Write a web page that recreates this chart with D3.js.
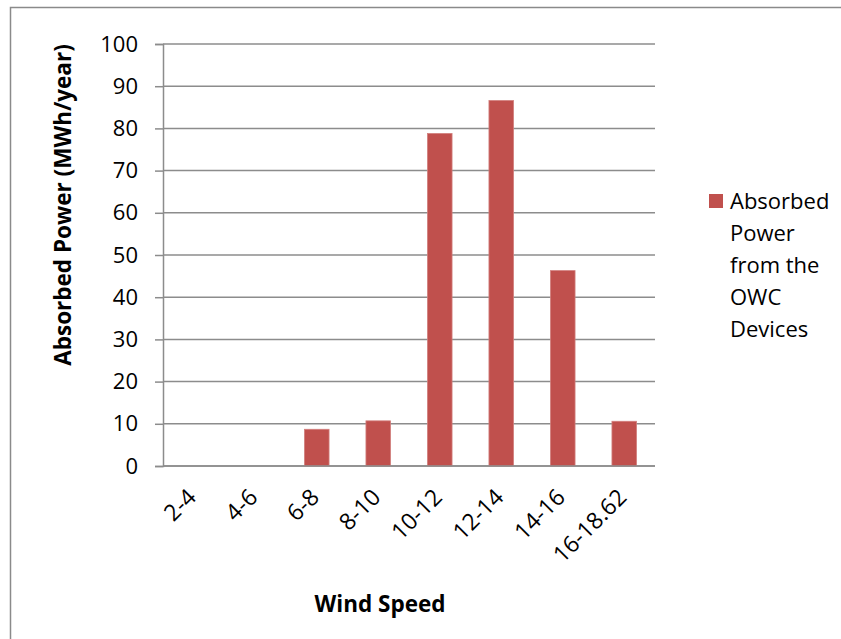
<!DOCTYPE html>
<html>
<head>
<meta charset="utf-8">
<script src="https://cdn.jsdelivr.net/npm/d3@7"></script>
<style>
  html, body { margin: 0; padding: 0; background: #fff; }
  svg { display: block; font-family: "Open Sans", sans-serif; }
</style>
</head>
<body>
<svg id="chart" width="841" height="639"></svg>
<script>
// Wind speed bins and the yearly energy absorbed by the OWC devices
const categories = ["2-4", "4-6", "6-8", "8-10", "10-12", "12-14", "14-16", "16-18.62"];
const absorbedPower = [0, 0, 8.7, 10.7, 78.8, 86.6, 46.3, 10.6];
const yTicks = [0, 10, 20, 30, 40, 50, 60, 70, 80, 90, 100];
const seriesName = ["Absorbed", "Power", "from the", "OWC", "Devices"];

const svg = d3.select("#chart");
const gridColor = "#8c8c8c";
const barColor = "#c0504d";
const font = "'Open Sans', sans-serif";

// outer chart frame
svg.append("rect")
  .attr("x", 10.5).attr("y", 7.5)
  .attr("width", 900).attr("height", 700)
  .attr("fill", "none").attr("stroke", "#8a8a8a").attr("stroke-width", 1.5);

const plot = { left: 163, right: 655, top: 44, bottom: 466 };

const x = d3.scaleBand()
  .domain(categories)
  .range([plot.left, plot.right])
  .paddingInner(0.6).paddingOuter(0.3);

const y = d3.scaleLinear().domain([0, 100]).range([plot.bottom, plot.top]);

// horizontal gridlines
svg.append("g")
  .selectAll("line")
  .data(yTicks)
  .join("line")
  .attr("x1", plot.left).attr("x2", plot.right)
  .attr("y1", d => y(d)).attr("y2", d => y(d))
  .attr("stroke", gridColor).attr("stroke-width", 1.5);

// y axis with outward ticks
const yAxis = svg.append("g")
  .attr("transform", `translate(${plot.left},0)`)
  .call(d3.axisLeft(y).tickValues(yTicks).tickSize(8).tickPadding(17).tickFormat(d3.format("d")));
yAxis.select(".domain").attr("stroke", gridColor).attr("stroke-width", 1.5);
yAxis.selectAll(".tick line").attr("stroke", gridColor).attr("stroke-width", 1.5);
yAxis.selectAll("text").attr("font-size", 22).attr("fill", "#000")
  .attr("font-family", font);

// bars
svg.append("g")
  .selectAll("rect")
  .data(absorbedPower.map((v, i) => ({ cat: categories[i], v })).filter(d => d.v > 0))
  .join("rect")
  .attr("x", d => x(d.cat))
  .attr("width", x.bandwidth())
  .attr("y", d => y(d.v))
  .attr("height", d => y(0) - y(d.v))
  .attr("fill", barColor)
  .attr("stroke", "#d27f7d").attr("stroke-width", 0.8);

// x axis baseline
svg.append("line")
  .attr("x1", plot.left).attr("x2", plot.right)
  .attr("y1", y(0)).attr("y2", y(0))
  .attr("stroke", gridColor).attr("stroke-width", 1.5);

// rotated category labels
svg.append("g")
  .selectAll("text")
  .data(categories)
  .join("text")
  .attr("transform", d => `translate(${x(d) + x.bandwidth() / 2 - 2},${plot.bottom + 27}) rotate(-45)`)
  .attr("text-anchor", "end")
  .attr("dy", "0.35em")
  .attr("font-size", 23)
  .attr("fill", "#000")
  .text(d => d);

// axis titles
svg.append("text")
  .attr("x", 380).attr("y", 612)
  .attr("text-anchor", "middle")
  .attr("font-size", 22.5).attr("font-weight", "bold")
  .text("Wind Speed");

svg.append("text")
  .attr("transform", "translate(71,205) rotate(-90)")
  .attr("text-anchor", "middle")
  .attr("font-size", 22.5).attr("font-weight", "bold")
  .text("Absorbed Power (MWh/year)");

// legend
const legend = svg.append("g");
legend.append("rect")
  .attr("x", 709).attr("y", 194).attr("width", 14).attr("height", 14)
  .attr("fill", barColor);
legend.append("text")
  .attr("x", 730).attr("y", 209)
  .attr("font-size", 22)
  .selectAll("tspan")
  .data(seriesName)
  .join("tspan")
  .attr("x", 730)
  .attr("dy", (d, i) => i === 0 ? 0 : 32)
  .text(d => d);
</script>
</body>
</html>
